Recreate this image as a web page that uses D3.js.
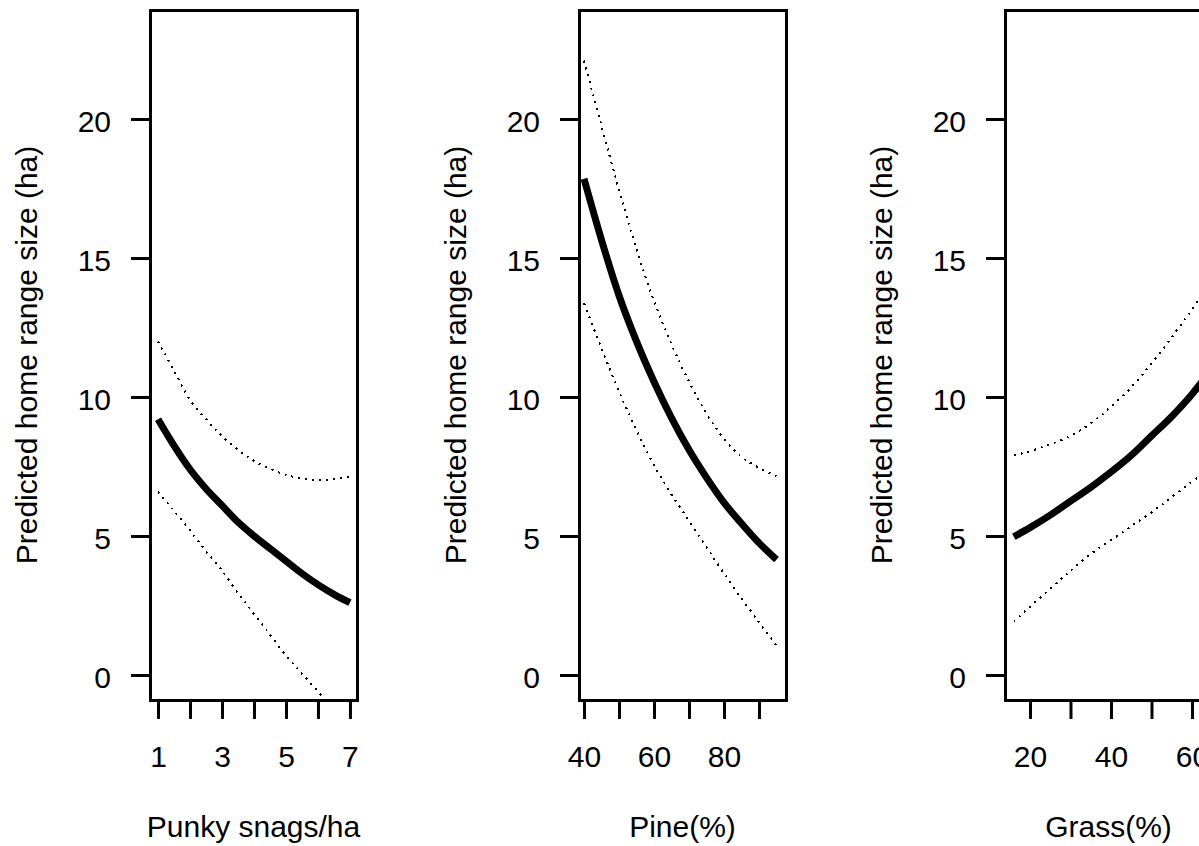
<!DOCTYPE html>
<html>
<head>
<meta charset="utf-8">
<script src="https://cdn.jsdelivr.net/npm/d3@7"></script>
<style>
  body { margin: 0; background: #fff; }
  svg text { font-family: "Liberation Sans", Arial, sans-serif; font-size: 30px; fill: #000; }
</style>
</head>
<body>
<svg id="chart"></svg>
<script>
// panel 1 : punky snags per ha
const snagX = [1, 1.5, 2, 2.5, 3, 3.5, 4, 4.5, 5, 5.5, 6, 6.5, 7];
const snagFit = [9.2, 8.25, 7.4, 6.7, 6.1, 5.5, 5.0, 4.55, 4.1, 3.65, 3.25, 2.9, 2.6];
const snagUpper = [12.0, 10.95, 9.9, 9.2, 8.6, 8.1, 7.7, 7.42, 7.2, 7.07, 7.0, 7.05, 7.12];
const snagLower = [6.6, 5.9, 5.2, 4.45, 3.75, 2.95, 2.2, 1.45, 0.7, 0.05, -0.6, -1.25, -1.9];
const snagTicks = [1, 2, 3, 4, 5, 6, 7];
const snagLabels = [1, 3, 5, 7];

// panel 2 : pine cover
const pineX = [40, 45, 50, 55, 60, 65, 70, 75, 80, 85, 90, 95];
const pineFit = [17.85, 15.65, 13.65, 12.0, 10.55, 9.25, 8.1, 7.1, 6.2, 5.45, 4.75, 4.15];
const pineUpper = [22.1, 19.75, 17.45, 15.3, 13.45, 11.9, 10.55, 9.4, 8.5, 7.85, 7.45, 7.15];
const pineLower = [13.37, 11.75, 10.2, 8.8, 7.55, 6.5, 5.55, 4.6, 3.65, 2.75, 1.9, 1.05];
const pineTicks = [40, 50, 60, 70, 80, 90];
const pineLabels = [40, 60, 80];

// panel 3 : grass cover
const grassX = [16, 20, 25, 30, 35, 40, 45, 50, 55, 60, 63];
const grassFit = [4.97, 5.3, 5.75, 6.25, 6.75, 7.3, 7.9, 8.6, 9.3, 10.1, 10.65];
const grassUpper = [7.9, 8.05, 8.3, 8.6, 9.05, 9.65, 10.35, 11.2, 12.15, 13.15, 13.8];
const grassLower = [1.92, 2.45, 3.1, 3.75, 4.35, 4.85, 5.35, 5.85, 6.4, 6.95, 7.25];
const grassTicks = [20, 30, 40, 50, 60];
const grassLabels = [20, 40, 60];

const yTicks = [0, 5, 10, 15, 20];
const yTitle = "Predicted home range size (ha)";

const width = 1199,
  height = 846;
const boxTop = 10,
  boxBottom = 700,
  boxWidth = 207;

const panels = [
  { title: "Punky snags/ha", x: snagX, fit: snagFit, upper: snagUpper, lower: snagLower,
    ticks: snagTicks, labels: snagLabels, domain: [0.75, 7.22], left: 150 },
  { title: "Pine(%)", x: pineX, fit: pineFit, upper: pineUpper, lower: pineLower,
    ticks: pineTicks, labels: pineLabels, domain: [38.57, 97.71], left: 579 },
  { title: "Grass(%)", x: grassX, fit: grassFit, upper: grassUpper, lower: grassLower,
    ticks: grassTicks, labels: grassLabels, domain: [13.83, 64.94], left: 1005 },
];

const svg = d3.select("#chart").attr("width", width).attr("height", height);

svg.append("rect").attr("width", width).attr("height", height).attr("fill", "#fff");

const y = d3.scaleLinear().domain([-0.9, 23.92]).range([boxBottom, boxTop]);

panels.forEach((p, i) => {
  const x = d3.scaleLinear().domain(p.domain).range([p.left, p.left + boxWidth]);
  const g = svg.append("g");

  // clip the curves to the plot box
  g.append("clipPath")
    .attr("id", `clip${i}`)
    .append("rect")
    .attr("x", p.left)
    .attr("y", boxTop)
    .attr("width", boxWidth)
    .attr("height", boxBottom - boxTop);

  const line = (vals) =>
    d3.line()
      .x((d, k) => x(p.x[k]))
      .y((d) => y(d))
      .curve(d3.curveMonotoneX)(vals);

  const curves = g.append("g").attr("clip-path", `url(#clip${i})`);

  // confidence limits, dotted
  [p.upper, p.lower].forEach((vals) => {
    curves.append("path")
      .attr("d", line(vals))
      .attr("fill", "none")
      .attr("stroke", "#000")
      .attr("stroke-width", 2)
      .attr("stroke-dasharray", "2,5")
      .attr("shape-rendering", "crispEdges");
  });

  curves.append("path")
    .attr("d", line(p.fit))
    .attr("fill", "none")
    .attr("stroke", "#000")
    .attr("stroke-width", 7)
    .attr("stroke-linejoin", "round");

  // box
  g.append("rect")
    .attr("x", p.left)
    .attr("y", boxTop)
    .attr("width", boxWidth)
    .attr("height", boxBottom - boxTop)
    .attr("fill", "none")
    .attr("stroke", "#000")
    .attr("stroke-width", 3)
    .attr("shape-rendering", "crispEdges");

  // y axis
  const ya = g.append("g")
    .attr("transform", `translate(${p.left},0)`)
    .call(d3.axisLeft(y).tickValues(yTicks).tickSize(19).tickPadding(20).tickFormat(d3.format("d")));
  ya.select(".domain").remove();
  ya.selectAll(".tick line").attr("stroke", "#000").attr("stroke-width", 3);
  ya.selectAll(".tick text")
    .attr("font-size", null)
    .attr("font-family", null)
    .attr("dy", "0.42em");

  // x axis
  const xa = g.append("g")
    .attr("transform", `translate(0,${boxBottom})`)
    .call(d3.axisBottom(x).tickValues(p.ticks).tickSize(19).tickPadding(0)
      .tickFormat((d) => (p.labels.includes(d) ? d : "")));
  xa.select(".domain").remove();
  xa.selectAll(".tick line").attr("stroke", "#000").attr("stroke-width", 3);
  xa.selectAll(".tick text")
    .attr("font-size", null)
    .attr("font-family", null)
    .attr("y", 67)
    .attr("dy", null);

  g.append("text")
    .attr("x", p.left + boxWidth / 2)
    .attr("y", 837)
    .attr("text-anchor", "middle")
    .text(p.title);

  g.append("text")
    .attr("transform", `translate(${p.left - 113},${(boxTop + boxBottom) / 2}) rotate(-90)`)
    .attr("text-anchor", "middle")
    .text(yTitle);
});
</script>
</body>
</html>
